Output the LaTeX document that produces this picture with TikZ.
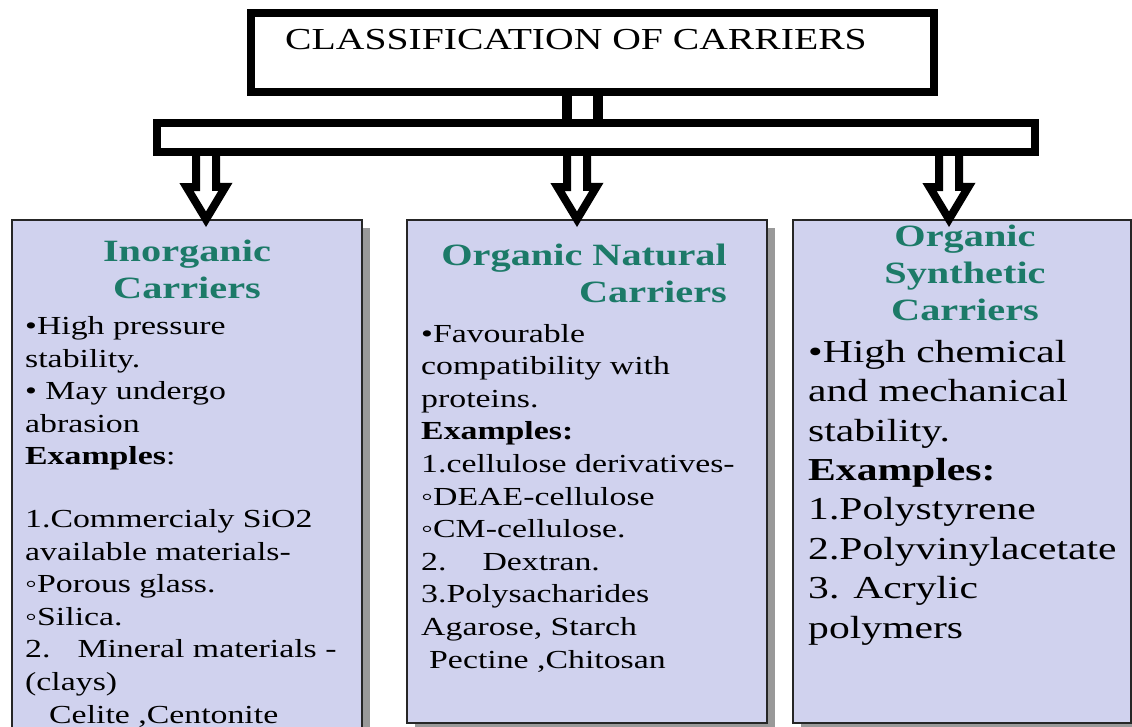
\documentclass[tikz,border=0pt]{standalone}
\usepackage{fontspec}
\setmainfont{Liberation Serif}[FakeStretch=1.3]
\usetikzlibrary{shadows, positioning}

\definecolor{boxfill}{RGB}{208,210,238}
\definecolor{headteal}{RGB}{28,122,104}

\begin{document}
\begin{tikzpicture}[x=1pt, y=-1pt,
    blockframe/.style={rectangle, draw, line width=8pt, fill=white, inner sep=0pt},
    carrier/.style={rectangle, draw=black!85, line width=1.5pt, fill=boxfill, inner sep=0pt,
        drop shadow={shadow xshift=8pt, shadow yshift=-8pt, fill=black!40, opacity=1}},
    headtext/.style={font=\fontsize{31}{37}\selectfont\bfseries, text=headteal, align=center, inner sep=0pt},
    bodytext/.style={font=\fontsize{26}{32.6}\selectfont, align=left, inner sep=0pt},
    bigtext/.style={font=\fontsize{32}{39.4}\selectfont, align=left, inner sep=0pt},
    hollow/.style={draw, line width=8pt},
    stemline/.style={line width=9.5pt}
]
\useasboundingbox (0,0) rectangle (1132,726);
\clip (0,0) rectangle (1132,726);

% Title and bar
\node[blockframe, minimum width=683pt, minimum height=79pt] (title) at (592.5,52.5) {};
\node[font=\fontsize{30.5}{36}\selectfont, anchor=base west, inner sep=0pt] (titletext) at (285,49) {CLASSIFICATION OF CARRIERS};
\node[blockframe, minimum width=878pt, minimum height=29pt] (bar) at (596,137.5) {};

\coordinate (sl) at (567,0);
\coordinate (sr) at (598,0);
\draw[stemline] (title.south -| sl) -- (bar.north -| sl);
\draw[stemline] (title.south -| sr) -- (bar.north -| sr);

% Carrier boxes
\node[carrier, minimum width=350pt, minimum height=540pt] (inorg)   at (187,490)   {};
\node[carrier, minimum width=360pt, minimum height=503pt] (natural) at (587,471.5) {};
\node[carrier, minimum width=338pt, minimum height=503pt] (synth)   at (962,471.5) {};

% base anchor = baseline of the last line
\node[headtext, anchor=base] (inorghead) at (187,298) {Inorganic\\Carriers};
\node[headtext, anchor=base east, align=right] (naturalhead) at (727,302) {Organic Natural\\Carriers};
\node[headtext, anchor=base] (synthhead) at (965,320) {Organic\\Synthetic\\Carriers};

\node[bodytext, anchor=base west] (inorgtext) at (25,723) {%
    •High pressure\\
    stability.\\
    • May undergo\\
    abrasion\\
    \textbf{Examples}:\\[30pt]
    1.Commercialy SiO2\\
    available materials-\\
    ◦Porous glass.\\
    ◦Silica.\\
    2.\hspace*{27pt}Mineral materials -\\
    (clays)\\
    \hspace*{24pt}Celite ,Centonite};

\node[bodytext, anchor=base west] (naturaltext) at (421,668) {%
    •Favourable\\
    compatibility with\\
    proteins.\\
    \textbf{Examples:}\\
    1.cellulose derivatives-\\
    ◦DEAE-cellulose\\
    ◦CM-cellulose.\\
    2.\hspace*{36pt}Dextran.\\
    3.Polysacharides\\
    Agarose, Starch\\
    \hspace*{8pt}Pectine ,Chitosan};

\node[bigtext, anchor=base west] (synthtext) at (808,638) {%
    •High chemical\\
    and mechanical\\
    stability.\\
    \textbf{Examples:}\\
    1.Polystyrene\\
    2.Polyvinylacetate\\
    3. Acrylic\\
    polymers};

% Arrows
\foreach \ax/\target in {206/inorg, 577/natural, 949/synth} {
    \coordinate (tip) at (\ax,0);
    \draw[hollow] (bar.south -| tip) ++(-10,0) -- ++(0,31) -- ++(-9.5,0)
        -- (\target.north -| tip) -- ++(19.5,-32.5) -- ++(-9.5,0) -- ++(0,-31);
}

\end{tikzpicture}
\end{document}
